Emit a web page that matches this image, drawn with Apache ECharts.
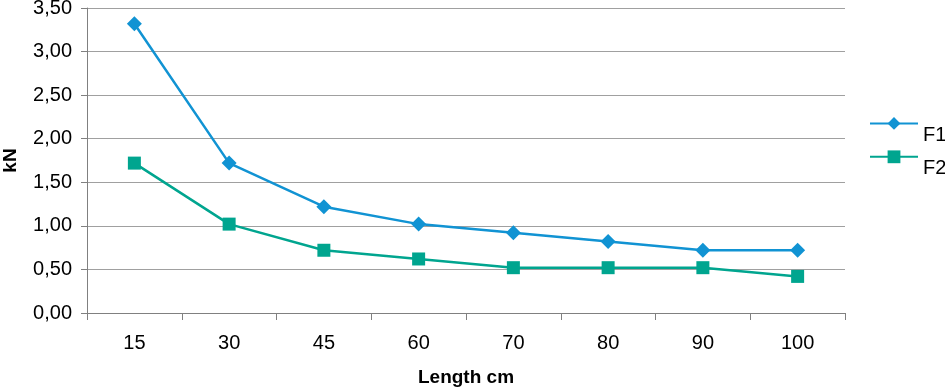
<!DOCTYPE html>
<html><head><meta charset="utf-8">
<script src="https://cdn.jsdelivr.net/npm/echarts@6/dist/echarts.min.js"></script>
<style>html,body{margin:0;padding:0;background:#fff}#c{width:945px;height:390px}</style>
</head><body><div id="c"></div>
<script>
const categories = ['15','30','45','60','70','80','90','100'];
const f1 = [3.32, 1.72, 1.22, 1.02, 0.92, 0.82, 0.72, 0.72];
const f2 = [1.72, 1.02, 0.72, 0.62, 0.52, 0.52, 0.52, 0.42];
const seriesNames = ['F1','F2'];
const chart = echarts.init(document.getElementById('c'));
const font = '"Liberation Sans", Arial, sans-serif';
chart.setOption({
  animation:false,
  grid:{left:87,right:100,top:8,bottom:77,containLabel:false,outerBoundsMode:'none'},
  legend:{
    left:869, top:117, padding:0, orient:'vertical', itemWidth:48, itemHeight:16, itemGap:5,
    data:[{name:'F1'},{name:'F2'}],
    formatter:n=>'{a|'+n+'}',
    textStyle:{fontFamily:font,fontSize:20,color:'#000',
      rich:{a:{fontFamily:font,fontSize:20,color:'#000',padding:[24,0,0,0]}}}
  },
  xAxis:{
    type:'category', data:categories, boundaryGap:true,
    name:'Length cm', nameLocation:'middle', nameGap:55,
    nameTextStyle:{fontFamily:font,fontSize:19,fontWeight:'bold',color:'#000'},
    axisLine:{lineStyle:{color:'#808080',width:1}},
    axisTick:{show:true,length:7,lineStyle:{color:'#808080'}},
    axisLabel:{fontFamily:font,fontSize:20,color:'#000',margin:20}
  },
  yAxis:{
    type:'value', min:0, max:3.5, interval:0.5,
    name:'kN', nameLocation:'middle', nameGap:67, nameRotate:90,
    nameTextStyle:{fontFamily:font,fontSize:19,fontWeight:'bold',color:'#000'},
    axisLine:{show:true,lineStyle:{color:'#808080',width:1}},
    axisTick:{show:true,length:6,inside:false,lineStyle:{color:'#808080'}},
    axisLabel:{fontFamily:font,fontSize:20,color:'#000',margin:15,
      formatter:v=>v.toFixed(2).replace('.',',')},
    splitLine:{show:true,lineStyle:{color:'#a0a0a0',width:1}}
  },
  series:[
    {name:seriesNames[0],type:'line',data:f1,symbol:'diamond',symbolSize:15,
     lineStyle:{color:'#1193d3',width:2.5},itemStyle:{color:'#1193d3'}},
    {name:seriesNames[1],type:'line',data:f2,symbol:'rect',symbolSize:13,
     lineStyle:{color:'#00a58f',width:2.5},itemStyle:{color:'#00a58f'}}
  ]
});
</script></body></html>
